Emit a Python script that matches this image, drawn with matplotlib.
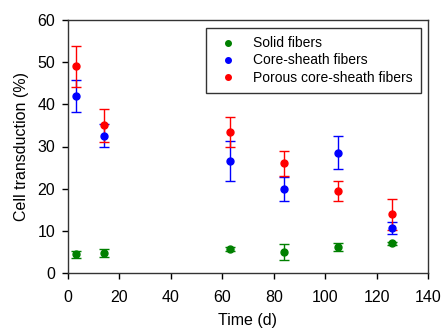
import matplotlib
matplotlib.use('Agg')
import matplotlib.pyplot as plt

plt.rcParams['font.family'] = ['Liberation Sans', 'DejaVu Sans']

days = [3, 14, 63, 84, 105, 126]

solid = [4.4, 4.8, 5.6, 5.0, 6.2, 7.0]
solid_err = [0.8, 0.9, 0.5, 1.8, 1.0, 0.3]

core = [41.9, 32.6, 26.5, 19.9, 28.5, 10.7]
core_err = [3.8, 2.7, 4.8, 2.8, 3.9, 1.5]

porous = [49.0, 35.0, 33.4, 26.0, 19.4, 13.9]
porous_err = [4.8, 4.0, 3.5, 2.9, 2.4, 3.7]

series = [
    ('Solid fibers', solid, solid_err, 'green'),
    ('Core-sheath fibers', core, core_err, 'blue'),
    ('Porous core-sheath fibers', porous, porous_err, 'red'),
]

fig = plt.figure(figsize=(4.42, 3.29), dpi=100)
ax = fig.add_axes([68 / 442, 1 - 273 / 329, 360 / 442, 253 / 329])

for label, vals, err, col in series:
    ax.errorbar(days, vals, yerr=err, fmt='o', color=col, ms=5,
                capsize=3.5, elinewidth=1, capthick=1, label=label)

ax.set_xlim(0, 140)
ax.set_ylim(0, 60)
ax.set_xticks(range(0, 141, 20))
ax.set_yticks(range(0, 61, 10))
ax.tick_params(direction='out', labelsize=11.5, length=4.3, width=1)
ax.tick_params(axis='x', pad=8)
ax.tick_params(axis='y', pad=5)
for s in ax.spines.values():
    s.set_linewidth(1)
    s.set_color('#333333')
ax.set_xlabel('Time (d)', fontsize=11.5, labelpad=6)
ax.set_ylabel('Cell transduction (%)', fontsize=11.5, labelpad=6)

handles, labels = ax.get_legend_handles_labels()
handles = [h[0] for h in handles]
leg = ax.legend(handles, labels, loc='upper right', bbox_to_anchor=(0.981, 0.968),
                borderaxespad=0, fontsize=10, frameon=True, fancybox=False,
                edgecolor='black', handletextpad=0.8, labelspacing=0.22,
                borderpad=0.6, markerscale=0.8)
leg.get_frame().set_linewidth(1)

fig.savefig('out.png', dpi=100)
